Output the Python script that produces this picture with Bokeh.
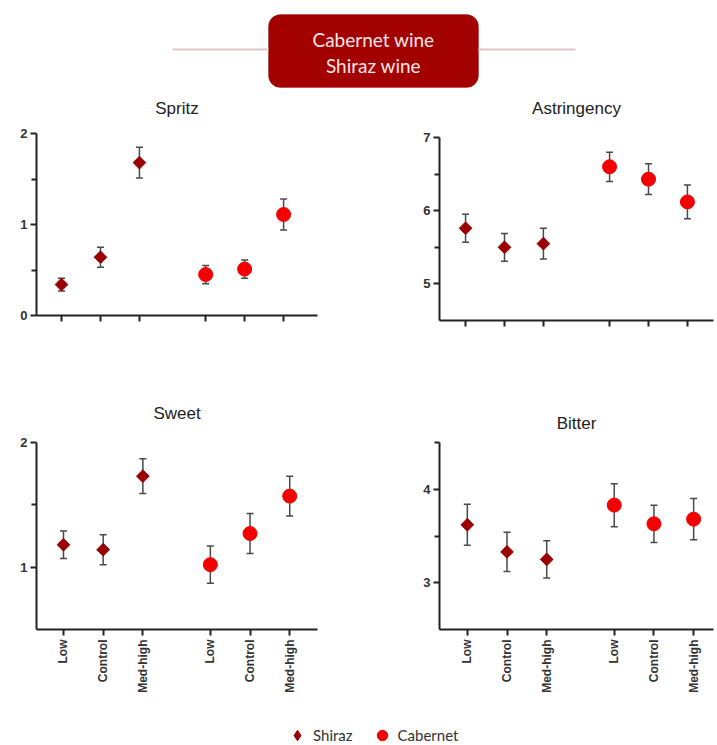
import numpy as np
from bokeh.plotting import figure
from bokeh.layouts import column, row
from bokeh.models import (ColumnDataSource, Whisker, TeeHead, FixedTicker, Range1d,
                          Legend, LegendItem, BoxAnnotation, Title)
from bokeh.embed import file_html
from bokeh.resources import INLINE
from bokeh.core.properties import value

# ---------------- data ----------------
levels = ["Low", "Control", "Med-high"]
wines = ["Shiraz", "Cabernet"]

spritz_shiraz = [0.34, 0.64, 1.68]
spritz_shiraz_err = [0.07, 0.11, 0.17]
spritz_cab = [0.45, 0.51, 1.11]
spritz_cab_err = [0.10, 0.10, 0.17]

astr_shiraz = [5.76, 5.50, 5.55]
astr_shiraz_err = [0.19, 0.19, 0.21]
astr_cab = [6.60, 6.43, 6.12]
astr_cab_err = [0.20, 0.21, 0.23]

sweet_shiraz = [1.18, 1.14, 1.73]
sweet_shiraz_err = [0.11, 0.12, 0.14]
sweet_cab = [1.02, 1.27, 1.57]
sweet_cab_err = [0.15, 0.16, 0.16]

bitter_shiraz = [3.62, 3.33, 3.25]
bitter_shiraz_err = [0.22, 0.21, 0.20]
bitter_cab = [3.83, 3.63, 3.68]
bitter_cab_err = [0.23, 0.20, 0.22]

header_lines = ["Cabernet wine", "Shiraz wine"]

# ---------------- style ----------------
SHIRAZ_COLOR = "#9a0000"
CAB_COLOR = "#f50000"
ERR_COLOR = "#4a4a4a"
AXIS_COLOR = "#222222"
FONT = "Liberation Sans"
GROUP_GAP = 3.7
HEADER_H = 88

x_pos = [[i + g * GROUP_GAP for i in range(len(levels))] for g in range(len(wines))]
all_x = x_pos[0] + x_pos[1]
all_labels = levels + levels


def make_panel(title, sh, sh_err, cb, cb_err, yr, y_major, y_minor, show_labels,
               width, height, b_left, b_right, b_top, b_bottom, xr, gap):
    p = figure(width=width, height=height, output_backend="svg", toolbar_location=None,
               x_range=Range1d(*xr), y_range=Range1d(*yr),
               min_border_left=b_left, min_border_right=b_right,
               min_border_top=b_top, min_border_bottom=b_bottom)
    p.outline_line_color = None
    p.grid.visible = False
    p.title.text = ""
    # spacer between frame and the panel title
    p.add_layout(Title(text=" ", text_font_size="1px", standoff=max(gap - 12, 0)), "above")
    p.add_layout(Title(text=title, align="center", vertical_align="bottom", standoff=0,
                       text_font=FONT, text_font_size="17px", text_font_style="normal",
                       text_color="#222222", text_line_height=1.0), "above")

    for ax in (p.xaxis[0], p.yaxis[0]):
        ax.axis_line_width = 2
        ax.axis_line_color = AXIS_COLOR
        ax.major_tick_line_width = 2
        ax.major_tick_line_color = AXIS_COLOR
        ax.minor_tick_line_width = 2
        ax.minor_tick_line_color = AXIS_COLOR
        ax.major_tick_in = 0
        ax.major_tick_out = 6
        ax.minor_tick_in = 0
        ax.minor_tick_out = 5
        ax.major_label_text_font = FONT
        ax.major_label_text_font_style = "bold"
        ax.major_label_text_color = "#333333"

    p.yaxis.ticker = FixedTicker(ticks=y_major, minor_ticks=y_minor)
    p.yaxis.major_label_text_font_size = "13px"
    p.yaxis.major_label_standoff = 3

    p.xaxis.ticker = FixedTicker(ticks=all_x, minor_ticks=[])
    p.xaxis.major_label_overrides = {x: lab for x, lab in zip(all_x, all_labels)}
    p.xaxis.major_label_orientation = np.pi / 2
    p.xaxis.major_label_standoff = 4
    if show_labels:
        p.xaxis.major_label_text_font_size = "12px"
    else:
        p.xaxis.major_label_text_font_size = "0px"
        p.xaxis.major_label_text_alpha = 0

    for xs, ys, es, color, marker, size, angle in (
        (x_pos[0], sh, sh_err, SHIRAZ_COLOR, "square", 9, np.pi / 4),
        (x_pos[1], cb, cb_err, CAB_COLOR, "circle", 14, 0.0),
    ):
        src = ColumnDataSource(dict(
            x=xs, y=ys,
            upper=[v + e for v, e in zip(ys, es)],
            lower=[v - e for v, e in zip(ys, es)],
        ))
        w = Whisker(base="x", upper="upper", lower="lower", source=src,
                    line_color=ERR_COLOR, line_width=1.5, level="underlay",
                    upper_head=TeeHead(size=7, line_color=ERR_COLOR, line_width=1.5),
                    lower_head=TeeHead(size=7, line_color=ERR_COLOR, line_width=1.5))
        p.add_layout(w)
        p.scatter(x="x", y="y", source=src, marker=marker, size=size, angle=angle,
                  fill_color=color, line_color=color)
    return p


row1_h = 385 - HEADER_H
p1 = make_panel("Spritz", spritz_shiraz, spritz_shiraz_err, spritz_cab, spritz_cab_err,
                (0, 2), [0, 1, 2], [0.5, 1.5], False,
                360, row1_h, 36, 43, 133 - HEADER_H, 385 - 315, (-0.642, 6.57), 25)
p2 = make_panel("Astringency", astr_shiraz, astr_shiraz_err, astr_cab, astr_cab_err,
                (4.5, 7), [5, 6, 7], [5.5, 6.5], False,
                357, row1_h, 79, 4, 137 - HEADER_H, 385 - 320, (-0.67, 6.37), 29)
p3 = make_panel("Sweet", sweet_shiraz, sweet_shiraz_err, sweet_cab, sweet_cab_err,
                (0.5, 2), [1, 2], [1.5], True,
                360, 320, 36, 43, 57, 76, (-0.68, 6.4), 29)
p4 = make_panel("Bitter", bitter_shiraz, bitter_shiraz_err, bitter_cab, bitter_cab_err,
                (2.5, 4.5), [3, 4], [3.5, 4.5], True,
                357, 320, 79, 4, 57, 76, (-0.7, 6.2), 19)

# ---------------- header ----------------
hf = figure(width=717, height=HEADER_H, output_backend="svg", toolbar_location=None,
            x_range=Range1d(0, 717), y_range=Range1d(HEADER_H, 0),
            x_axis_location=None, y_axis_location=None, min_border=0)
hf.outline_line_color = None
hf.grid.visible = False
hf.segment(x0=[172, 478], y0=[49, 49], x1=[268, 575], y1=[49, 49],
           line_color="#e2c4c8", line_width=2)
hf.add_layout(BoxAnnotation(left=268, right=478, top=14, bottom=87,
                            fill_color="#a30000", fill_alpha=1.0,
                            line_color="#8f0000", line_width=1, border_radius=12,
                            level="underlay"))
hf.text(x=[373, 373], y=[39, 65], text=header_lines, text_align="center",
        text_baseline="middle", text_font=value("Lato"), text_font_size="19px",
        text_color="#fbe6e6")

# ---------------- legend ----------------
lf = figure(width=717, height=40, output_backend="svg", toolbar_location=None,
            x_range=Range1d(0, 1), y_range=Range1d(0, 1),
            x_axis_location=None, y_axis_location=None, min_border=0)
lf.outline_line_color = None
lf.grid.visible = False
r_sh = lf.scatter(x=[-10], y=[-10], marker="diamond", size=12,
                  fill_color=SHIRAZ_COLOR, line_color=SHIRAZ_COLOR)
r_cb = lf.scatter(x=[-10], y=[-10], marker="circle", size=12,
                  fill_color=CAB_COLOR, line_color=CAB_COLOR)
legend = Legend(items=[LegendItem(label=wines[0], renderers=[r_sh]),
                       LegendItem(label=wines[1], renderers=[r_cb])],
                orientation="horizontal", location=(284, -5),
                glyph_width=26, glyph_height=30, label_standoff=3, spacing=16,
                padding=0, margin=0, border_line_color=None, background_fill_alpha=0,
                label_text_font="Lato", label_text_font_size="15px",
                label_text_color="#333333")
lf.add_layout(legend, "center")

layout = column(hf, row(column(p1, p3), column(p2, p4)), lf)

open("out.html", "w").write(file_html(layout, INLINE))
